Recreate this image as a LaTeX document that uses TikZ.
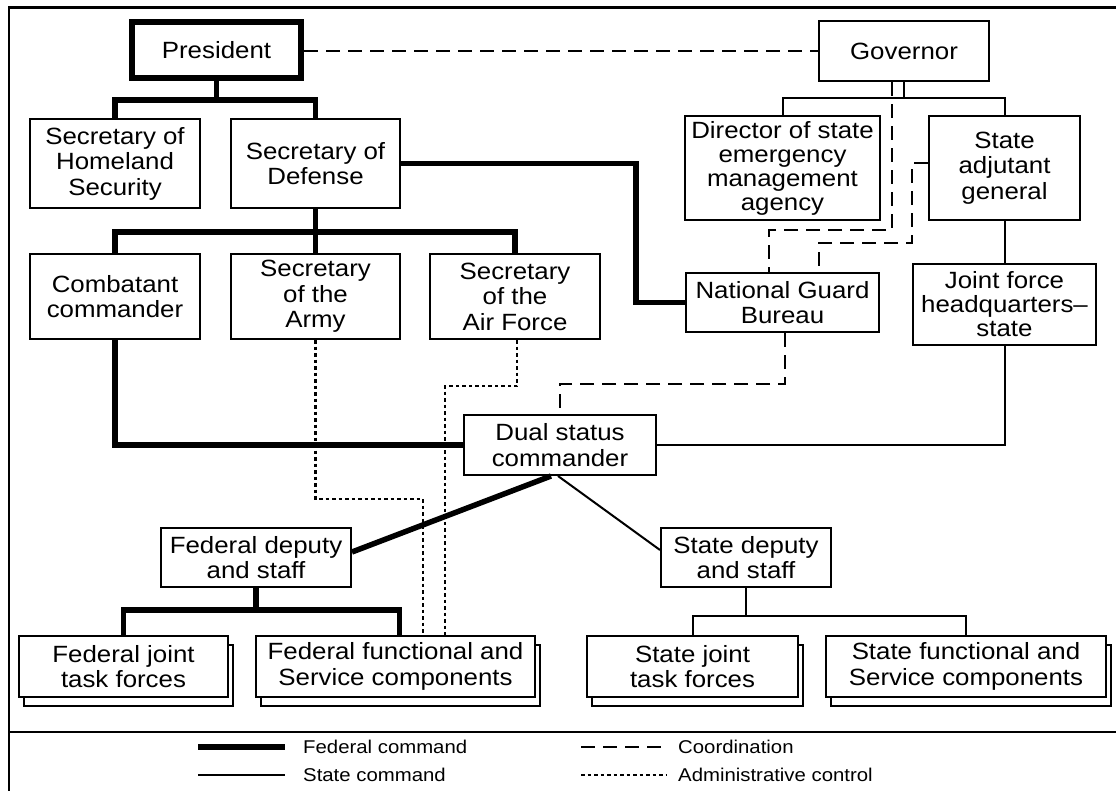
\documentclass[tikz,border=0pt]{standalone}
\usepackage{fontspec}
\setmainfont[FakeStretch=1.1]{Liberation Sans}
\usetikzlibrary{calc,shadows}

\begin{document}
\begin{tikzpicture}[x=1pt,y=-1pt,
  box/.style={draw, line width=2pt, fill=white, rectangle, inner sep=0pt,
    align=center, font=\fontsize{23.5}{25.5}\selectfont},
  tight/.style={font=\fontsize{23.5}{24}\selectfont},
  stack/.style={box, general shadow={shadow xshift=5pt, shadow yshift=-9pt,
    fill=white, draw=black, line width=2pt}},
  fedline/.style={line width=5.5pt},
  stateline/.style={line width=2pt},
  coordline/.style={line width=2.2pt, dash pattern=on 14pt off 8pt},
  adminline/.style={line width=2.4pt, dash pattern=on 3.5pt off 3pt},
  leg/.style={inner sep=0pt, anchor=west, font=\fontsize{18.5}{21}\selectfont},
]
\useasboundingbox (0,0) rectangle (1116,790);

% frame and legend separator
\draw[line width=2.5pt] (9,800) -- (9,7.5) -- (1125,7.5);
\draw[line width=2pt] (9,732) -- (1125,732);

% top level
\node[box, line width=6pt, minimum width=169pt, minimum height=56pt] (pres) at (216.5,50) {President};
\node[box, minimum width=170pt, minimum height=60pt] (gov) at (904,51) {Governor};

% second row
\node[box, minimum width=170pt, minimum height=89pt] (sechs) at (115,163.5) {Secretary of\\Homeland\\Security};
\node[box, minimum width=169pt, minimum height=89pt] (secdef) at (315.5,163.5) {Secretary of\\Defense};
\node[box, tight, minimum width=195pt, minimum height=104pt] (dir) at (782.5,168) {Director of state\\emergency\\management\\agency};
\node[box, minimum width=151pt, minimum height=104pt] (adj) at (1004.5,168) {State\\adjutant\\general};

% third row
\node[box, minimum width=170pt, minimum height=85pt] (comb) at (115,296.5) {Combatant\\commander};
\node[box, minimum width=169pt, minimum height=85pt] (army) at (315.5,296.5) {Secretary\\of the\\Army};
\node[box, minimum width=170pt, minimum height=85pt] (af) at (515,296.5) {Secretary\\of the\\Air Force};
\node[box, minimum width=193pt, minimum height=59pt] (ngb) at (782.5,302.5) {National Guard\\Bureau};
\node[box, tight, minimum width=183pt, minimum height=81pt] (jfhq) at (1004.5,304.5) {Joint force\\headquarters--\\state};

% dual status commander and deputies
\node[box, minimum width=192pt, minimum height=60pt] (dual) at (560,445) {Dual status\\commander};
\node[box, minimum width=190pt, minimum height=59pt] (fdep) at (256,557.5) {Federal deputy\\and staff};
\node[box, minimum width=170pt, minimum height=59pt] (sdep) at (746,557.5) {State deputy\\and staff};

% stacked component boxes
\node[stack, minimum width=209pt, minimum height=61pt] (fjtf) at (123.5,666.5) {Federal joint\\task forces};
\node[stack, minimum width=279pt, minimum height=61pt] (ffsc) at (395.5,666.5) {Federal functional and\\Service components};
\node[stack, minimum width=211pt, minimum height=61pt] (sjtf) at (692.5,666.5) {State joint\\task forces};
\node[stack, minimum width=280pt, minimum height=61pt] (sfsc) at (966,666.5) {State functional and\\Service components};

% federal command
\draw[fedline] (pres.south) -- (pres.south |- 0,100);
\draw[fedline] (sechs.north) -- (sechs.north |- 0,100) -- (secdef.north |- 0,100) -- (secdef.north);
\coordinate (k1) at (636,0);
\draw[fedline] (secdef.east) -- (secdef.east -| k1) |- (ngb.west);
\draw[fedline] (secdef.south) -- (secdef.south |- 0,232);
\draw[fedline] (comb.north) -- (comb.north |- 0,232) -- (af.north |- 0,232) -- (af.north);
\draw[fedline] (army.north) -- (army.north |- 0,232);
\draw[fedline] (comb.south) |- (dual.west);
\draw[fedline] ([xshift=-9pt]dual.south) -- ([yshift=5.5pt]fdep.east);
\coordinate (f0) at ([xshift=4pt]ffsc.north);
\draw[fedline] (fdep.south) -- (fdep.south |- 0,610);
\draw[fedline] (fjtf.north) -- (fjtf.north |- 0,610) -- (f0 |- 0,610) -- (f0);

% state command
\draw[stateline] (gov.south) -- (gov.south |- 0,98);
\draw[stateline] (dir.north) -- (dir.north |- 0,98) -- (adj.north |- 0,98) -- (adj.north);
\draw[stateline] (adj.south) -- (jfhq.north);
\draw[stateline] (jfhq.south) |- (dual.east);
\draw[stateline] ([xshift=-2pt]dual.south) -- ([yshift=7.5pt]sdep.west);
\draw[stateline] (sdep.south) -- (sdep.south |- 0,616);
\draw[stateline] (sjtf.north) -- (sjtf.north |- 0,616) -- (sfsc.north |- 0,616) -- (sfsc.north);

% coordination
\draw[coordline] (pres.east |- 0,51) -- (gov.west);
\coordinate (g1) at ([xshift=-12pt]gov.south);
\coordinate (n1) at ([xshift=-13.5pt]ngb.north);
\coordinate (n2) at ([xshift=36.5pt]ngb.north);
\coordinate (a1) at ([yshift=5pt]adj.west);
\coordinate (k2) at (912,0);
\draw[coordline] (g1) -- (g1 |- 0,230) -- (n1 |- 0,230) -- (n1);
\draw[coordline] (a1) -- (a1 -| k2) -- (k2 |- 0,243) -- (n2 |- 0,243) -- (n2);
\draw[coordline] ([xshift=2.5pt]ngb.south) -- ([xshift=2.5pt]ngb.south |- 0,384) -| (dual.north);

% administrative control
\coordinate (f1) at ([xshift=27.5pt]ffsc.north);
\coordinate (f2) at ([xshift=49.5pt]ffsc.north);
\draw[adminline] (army.south) -- (army.south |- 0,499) -- (f1 |- 0,499) -- (f1);
\draw[adminline] ([xshift=2pt]af.south) -- ([xshift=2pt]af.south |- 0,386) -- (f2 |- 0,386) -- (f2);

% legend
\node[leg] (lfed) at (303,747) {Federal command};
\node[leg] (lst) at (303,775) {State command};
\node[leg] (lco) at (678,747) {Coordination};
\node[leg] (lad) at (678,775) {Administrative control};
\draw[fedline] ([xshift=-105pt]lfed.west) -- ([xshift=-18pt]lfed.west);
\draw[stateline] ([xshift=-105pt]lst.west) -- ([xshift=-18pt]lst.west);
\draw[coordline] ([xshift=-97pt]lco.west) -- ([xshift=-11pt]lco.west);
\draw[adminline] ([xshift=-97pt]lad.west) -- ([xshift=-11pt]lad.west);
\end{tikzpicture}
\end{document}
